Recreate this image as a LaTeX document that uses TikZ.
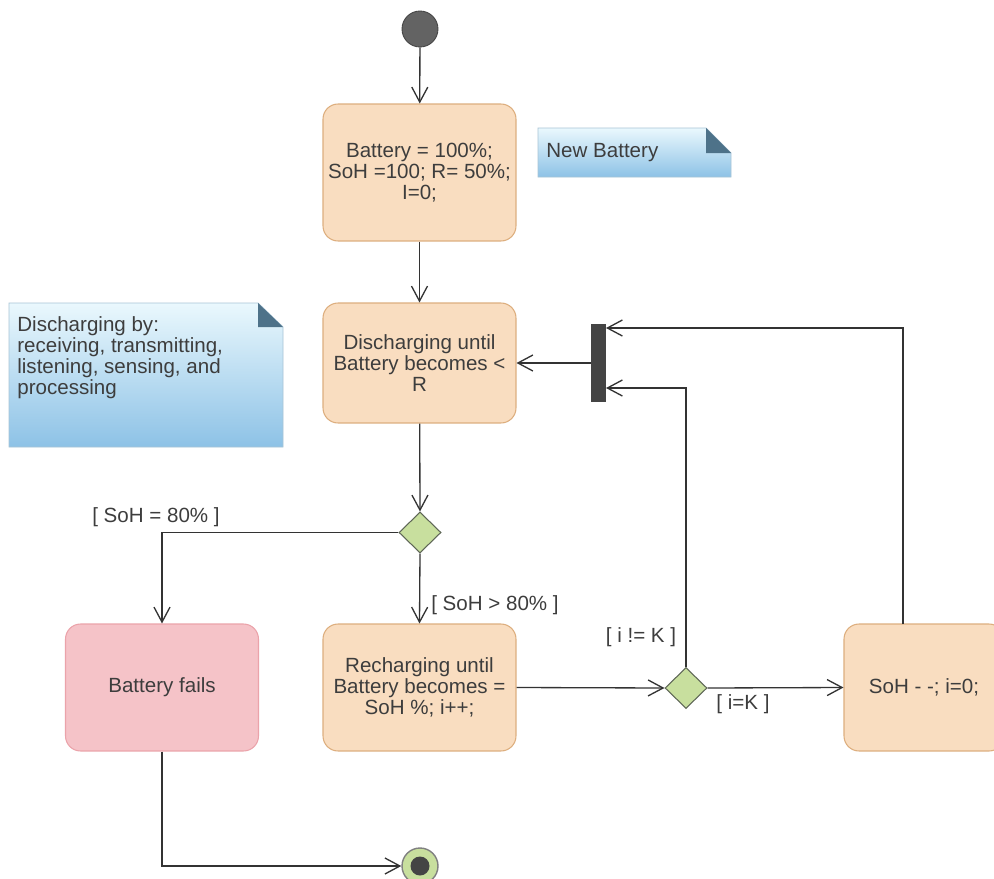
\documentclass[tikz,border=0pt]{standalone}
\usepackage{fontspec}
\setmainfont{Liberation Sans}
\usetikzlibrary{arrows.meta, shapes.geometric}

\definecolor{actfill}{HTML}{F9DDC0}
\definecolor{actdraw}{HTML}{DDAE7E}
\definecolor{failfill}{HTML}{F5C3C8}
\definecolor{faildraw}{HTML}{EBA3AA}
\definecolor{decfill}{HTML}{C8DF9E}
\definecolor{decdraw}{HTML}{5E6656}
\definecolor{notetop}{HTML}{EAF8FD}
\definecolor{notebot}{HTML}{8DC2E6}
\definecolor{notedraw}{HTML}{A8C4D6}
\definecolor{notefold}{HTML}{4E7289}
\definecolor{bargray}{HTML}{444444}
\definecolor{startgray}{HTML}{636363}
\definecolor{linegray}{HTML}{333333}
\definecolor{txtgray}{HTML}{3D3D3D}

\begin{document}
\begin{tikzpicture}[
    x=0.02cm, y=-0.02cm,
    txt/.style={font=\fontsize{11.7}{12}\selectfont, text=txtgray},
    action/.style={txt, rectangle, rounded corners=0.3cm, fill=actfill, draw=actdraw,
        line width=0.6pt, minimum width=3.86cm, minimum height=2.54cm, align=center, inner sep=2pt},
    failbox/.style={action, fill=failfill, draw=faildraw},
    decision/.style={diamond, fill=decfill, draw=decdraw, line width=0.6pt,
        minimum width=0.84cm, minimum height=0.82cm, inner sep=0pt},
    flow/.style={draw=linegray, line width=0.75pt, -{Straight Barb[length=3mm, width=3.2mm]}},
    notebox/.style={draw=notedraw, line width=0.5pt, top color=notetop, bottom color=notebot},
    fold/.style={fill=notefold}
]
    \clip (0,0) rectangle (994,879);
    \fill[white] (0,0) rectangle (994,879);

    % ---- notes ----
    \path[notebox] (538,128) -- (706,128) -- (731,153) -- (731,177) -- (538,177) -- cycle;
    \fill[fold] (706,128) -- (731,153) -- (706,153) -- cycle;
    \node[txt, anchor=west, inner sep=0pt] (nbnote) at (546,152.5) {New Battery};

    \path[notebox] (9,303) -- (258,303) -- (283,327) -- (283,447) -- (9,447) -- cycle;
    \fill[fold] (258,303) -- (283,327) -- (258,327) -- cycle;
    \node[txt, anchor=north west, align=left, inner sep=0pt] (dcnote) at (17,316)
        {Discharging by:\\receiving, transmitting,\\listening, sensing, and\\processing};

    % ---- start / end ----
    \node[circle, fill=startgray, draw=bargray, line width=0.5pt, minimum size=0.72cm, inner sep=0pt] (start) at (420,29) {};
    \node[circle, fill=decfill, draw=gray, line width=0.8pt, minimum size=0.72cm, inner sep=0pt] (final) at (420,866) {};
    \node[circle, fill=bargray, minimum size=0.38cm, inner sep=0pt] (finaldot) at (final) {};

    % ================= actions =================
    \node[action, minimum height=2.74cm] (init) at (419.5,172.5)
        {Battery = 100\%;\\SoH =100; R= 50\%;\\I=0;};
    \node[action, minimum height=2.4cm] (discharge) at (419.5,363)
        {Discharging until\\Battery becomes <\\R};
    \node[failbox] (fails) at (162,687.5) {Battery fails};
    \node[action] (recharge) at (419.5,687.5)
        {Recharging until\\Battery becomes =\\SoH \%; i++;};
    \node[action, minimum width=3.2cm] (sohdec) at (924,687.5) {SoH - -; i=0;};

    % ---- decisions and join bar ----
    \node[decision] (dec1) at (420,532.5) {};
    \node[decision] (dec2) at (686,688) {};
    \node[fill=bargray, minimum width=0.3cm, minimum height=1.58cm, inner sep=0pt] (bar) at (598.5,363) {};
    \coordinate (barhi) at (606,328);
    \coordinate (barlo) at (606,388);
    \coordinate (sohtop) at (903,624);

    % ---- flows ----
    \draw[flow] (start) -- (init);
    \draw[flow] (init) -- (discharge);
    \draw[flow] (discharge) -- (dec1.north);
    \draw[flow] (dec1.west) -| (fails.north);
    \draw[flow] (dec1.south) -- (recharge.north);
    \draw[flow] (recharge.east) -- (dec2.west);
    \draw[flow] (dec2.east) -- (sohdec.west);
    \draw[flow] (dec2.north) |- (barlo);
    \draw[flow] (sohtop) |- (barhi);
    \draw[flow] (bar.west) -- (discharge.east);
    \draw[flow] (fails.south) |- (final.west);

    % ---- guards ----
    \node[txt] (geq) at (156,517) {[ SoH = 80\% ]};
    \node[txt] (ggt) at (495,605) {[ SoH > 80\% ]};
    \node[txt] (gne) at (641,637) {[ i != K ]};
    \node[txt] (gk) at (743,704) {[ i=K ]};
\end{tikzpicture}
\end{document}
